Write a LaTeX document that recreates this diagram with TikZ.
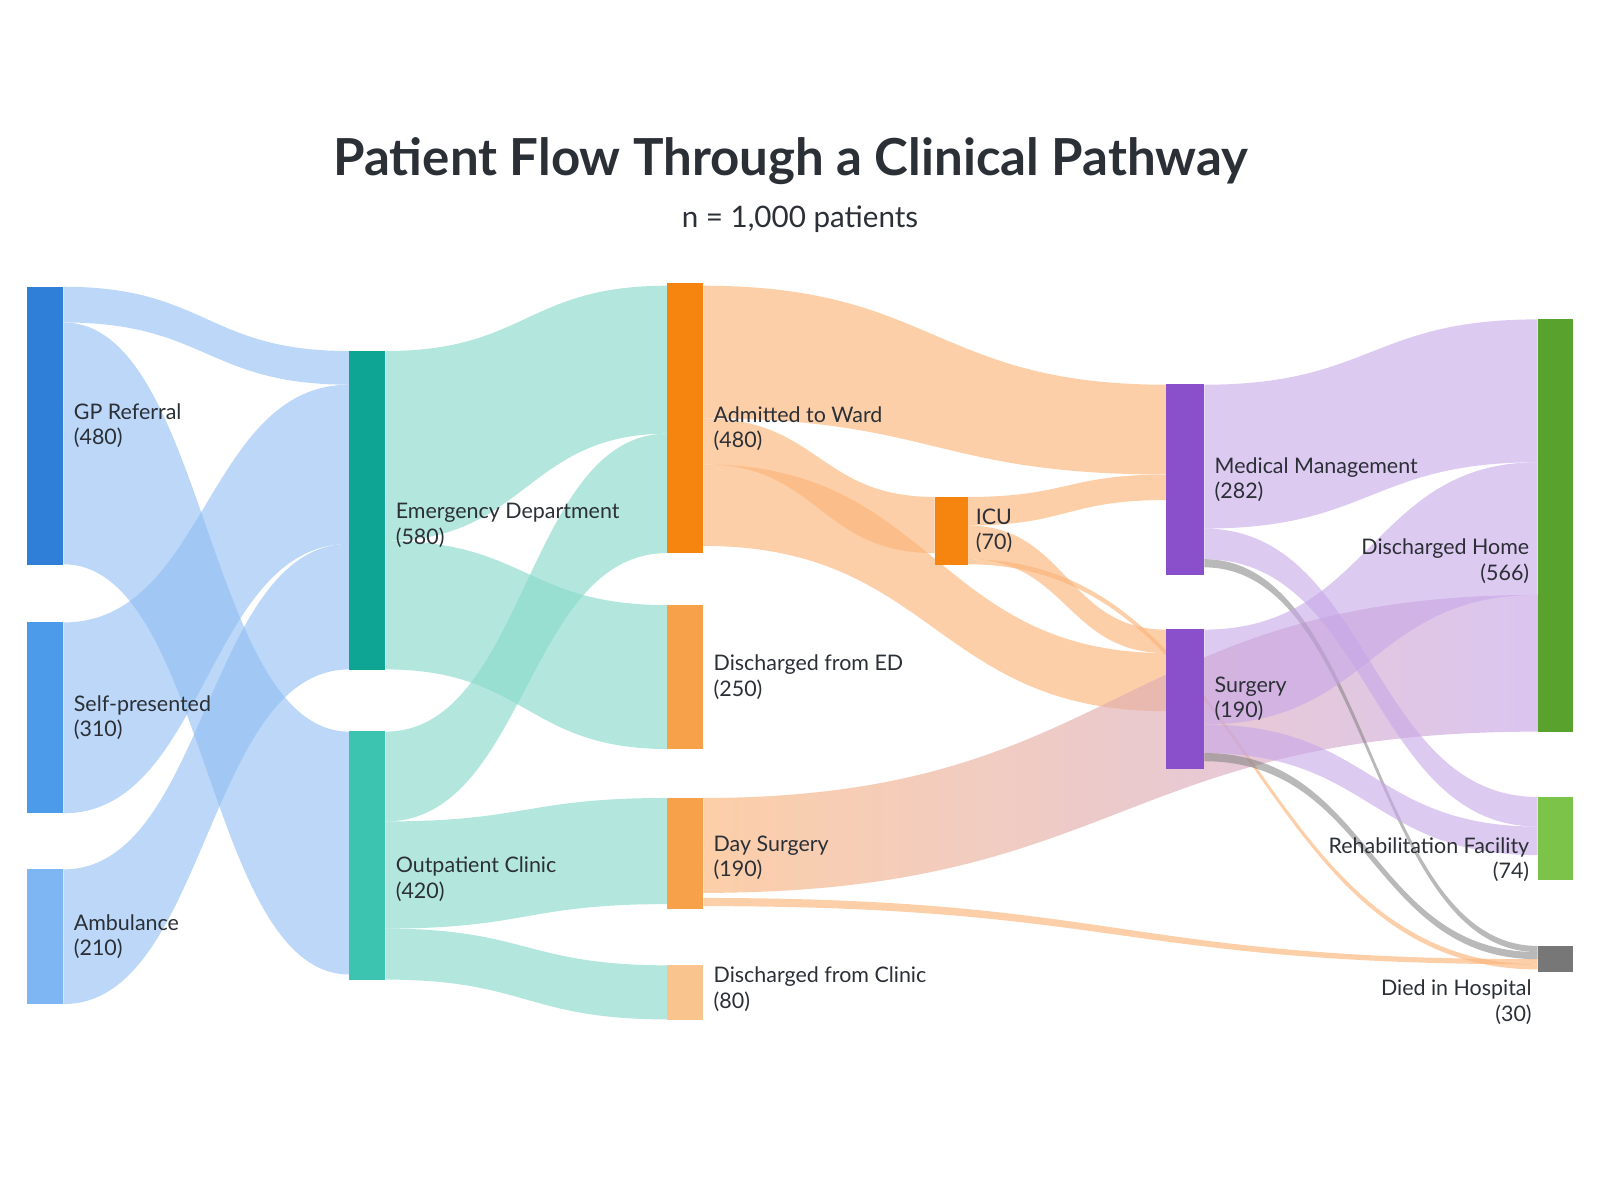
\documentclass[tikz,border=0pt]{standalone}
\usepackage{fontspec}
\setmainfont{Lato}
\usetikzlibrary{positioning,calc}

\definecolor{gpblue}{HTML}{2F7FD8}
\definecolor{selfblue}{HTML}{4C9BEA}
\definecolor{ambblue}{HTML}{7DB6F2}
\definecolor{flowblue}{HTML}{8FBDF3}
\definecolor{edteal}{HTML}{0EA594}
\definecolor{opteal}{HTML}{3CC4B0}
\definecolor{flowteal}{HTML}{8ADACB}
\definecolor{admorange}{HTML}{F5850F}
\definecolor{midorange}{HTML}{F7A24B}
\definecolor{paleorange}{HTML}{F9C48E}
\definecolor{floworange}{HTML}{FBB57A}
\definecolor{mgmtpurple}{HTML}{8A4FCB}
\definecolor{flowpurple}{HTML}{C7A6E8}
\definecolor{homegreen}{HTML}{5AA22E}
\definecolor{rehabgreen}{HTML}{7CC34A}
\definecolor{diedgray}{HTML}{777777}
\definecolor{titlegray}{HTML}{2B2F36}

% one band: source, target, source top/bottom, target top/bottom, style
\newcommand\flow[7]{%
  \path let \p1=(#1.east), \p2=(#2.west) in
    [#7] (\x1,-#3pt) .. controls ({(\x1+\x2)/2},-#3pt) and ({(\x1+\x2)/2},-#5pt) .. (\x2,-#5pt)
    -- (\x2,-#6pt) .. controls ({(\x1+\x2)/2},-#6pt) and ({(\x1+\x2)/2},-#4pt) .. (\x1,-#4pt) -- cycle;}

\begin{document}
\begin{tikzpicture}[x=1pt,y=-1pt]
  \tikzset{barnode/.style={draw=none,inner sep=0pt,minimum width=35pt}}
  \tikzset{lbl/.style={font=\fontsize{21}{25}\selectfont,align=left,text=titlegray,inner sep=0pt}}
  \tikzset{rlbl/.style={lbl,align=right}}
  \tikzset{blueband/.style={fill=flowblue,fill opacity=0.6}}
  \tikzset{tealband/.style={fill=flowteal,fill opacity=0.65}}
  \tikzset{orangeband/.style={fill=floworange,fill opacity=0.65}}
  \tikzset{purpleband/.style={fill=flowpurple,fill opacity=0.6}}
  \tikzset{grayband/.style={fill=gray,fill opacity=0.55}}
  \useasboundingbox (0,0) rectangle (1568,1176);

  \node[font=\fontsize{50}{56}\selectfont\bfseries,text=titlegray] (title) at (775,158) {Patient Flow Through a Clinical Pathway};
  \node[font=\fontsize{29}{34}\selectfont,text=titlegray] (sub) at (784,215) {n = 1,000 patients};

  % bars
  \node[barnode,fill=gpblue,minimum height=272pt] (gp) at (44.5,417) {};
  \node[barnode,fill=selfblue,minimum height=187pt] (self) at (44.5,703.5) {};
  \node[barnode,fill=ambblue,minimum height=132pt] (amb) at (44.5,918) {};
  \node[barnode,fill=edteal,minimum height=312pt] (ed) at (360,500) {};
  \node[barnode,fill=opteal,minimum height=243pt] (op) at (360,838.5) {};
  \node[barnode,fill=admorange,minimum height=264pt] (adm) at (671.5,410) {};
  \node[barnode,fill=midorange,minimum height=141pt] (ded) at (671.5,663.5) {};
  \node[barnode,fill=midorange,minimum height=109pt] (ds) at (671.5,836.5) {};
  \node[barnode,fill=paleorange,minimum height=53pt] (dcl) at (671.5,972.5) {};
  \node[barnode,fill=admorange,minimum height=66pt,minimum width=32pt] (icu) at (932,520) {};
  \node[barnode,fill=mgmtpurple,minimum height=186pt,minimum width=37pt] (mm) at (1161.5,470) {};
  \node[barnode,fill=mgmtpurple,minimum height=136pt,minimum width=37pt] (sur) at (1161.5,685) {};
  \node[barnode,fill=homegreen,minimum height=404pt,minimum width=34pt] (dh) at (1524,515) {};
  \node[barnode,fill=rehabgreen,minimum height=81pt,minimum width=34pt] (reh) at (1524,821.5) {};
  \node[barnode,fill=diedgray,minimum height=25pt,minimum width=34pt] (died) at (1524,939.5) {};

  % bands
  \flow{gp}{ed}{281}{316}{344}{377}{blueband}
  \flow{gp}{op}{316}{553}{717}{955}{blueband}
  \flow{self}{ed}{610}{797}{377}{533}{blueband}
  \flow{amb}{ed}{852}{984}{533}{656}{blueband}
  \flow{ed}{adm}{344}{530}{280}{425}{tealband}
  \flow{ed}{ded}{530}{656}{593}{734}{tealband}
  \flow{op}{adm}{717}{805}{425}{542}{tealband}
  \flow{op}{ds}{805}{910}{782}{886}{tealband}
  \flow{op}{dcl}{910}{960}{946}{999}{tealband}
  \flow{adm}{mm}{280}{410}{377}{465}{orangeband}
  \flow{adm}{icu}{410}{455}{487}{542}{orangeband}
  \flow{adm}{sur}{455}{535}{640}{697}{orangeband}
  \flow{icu}{mm}{487}{515}{465}{490}{orangeband}
  \flow{icu}{sur}{515}{548}{617}{640}{orangeband}
  \flow{icu}{died}{548}{553}{945}{950}{orangeband}
  \flow{ds}{dh}{782}{875}{583}{717}{left color=floworange,right color=flowpurple,fill opacity=0.65}
  \flow{ds}{died}{880}{888}{940}{945}{orangeband}
  \flow{mm}{dh}{377}{518}{313}{453}{purpleband}
  \flow{mm}{reh}{518}{548}{781}{810}{purpleband}
  \flow{mm}{died}{548}{556}{927}{933}{grayband}
  \flow{sur}{dh}{617}{710}{453}{583}{purpleband}
  \flow{sur}{reh}{710}{738}{810}{838}{purpleband}
  \flow{sur}{died}{738}{746}{933}{940}{grayband}

  % redraw bars above bands
  \foreach \b/\c in {gp/gpblue,self/selfblue,amb/ambblue,ed/edteal,op/opteal,adm/admorange,ded/midorange,ds/midorange,dcl/paleorange,icu/admorange,mm/mgmtpurple,sur/mgmtpurple,dh/homegreen,reh/rehabgreen,died/diedgray}
    \fill[\c] (\b.north west) rectangle (\b.south east);

  % labels
  \node[lbl,right=10pt of gp] (gpl) {GP Referral\\(480)};
  \node[lbl,right=10pt of self] (selfl) {Self-presented\\(310)};
  \node[lbl,right=10pt of amb] (ambl) {Ambulance\\(210)};
  \node[lbl,right=10pt of ed,yshift=-15pt] (edl) {Emergency Department\\(580)};
  \node[lbl,right=10pt of op,yshift=-23pt] (opl) {Outpatient Clinic\\(420)};
  \node[lbl,right=10pt of adm,yshift=-10pt] (adml) {Admitted to Ward\\(480)};
  \node[lbl,right=10pt of ded] (dedl) {Discharged from ED\\(250)};
  \node[lbl,right=10pt of ds,yshift=-4pt] (dsl) {Day Surgery\\(190)};
  \node[lbl,right=10pt of dcl,yshift=3pt] (dcll) {Discharged from Clinic\\(80)};
  \node[lbl,right=8pt of icu] (icul) {ICU\\(70)};
  \node[lbl,right=10pt of mm] (mml) {Medical Management\\(282)};
  \node[lbl,right=10pt of sur] (surl) {Surgery\\(190)};
  \node[rlbl,left=8pt of dh,yshift=-35pt] (dhl) {Discharged Home\\(566)};
  \node[rlbl,left=8pt of reh,yshift=-21pt] (rehl) {Rehabilitation Facility\\(74)};
  \node[rlbl,anchor=north east] (diedl) at ($(died.south east)+(-40,8)$) {Died in Hospital\\(30)};
\end{tikzpicture}
\end{document}
